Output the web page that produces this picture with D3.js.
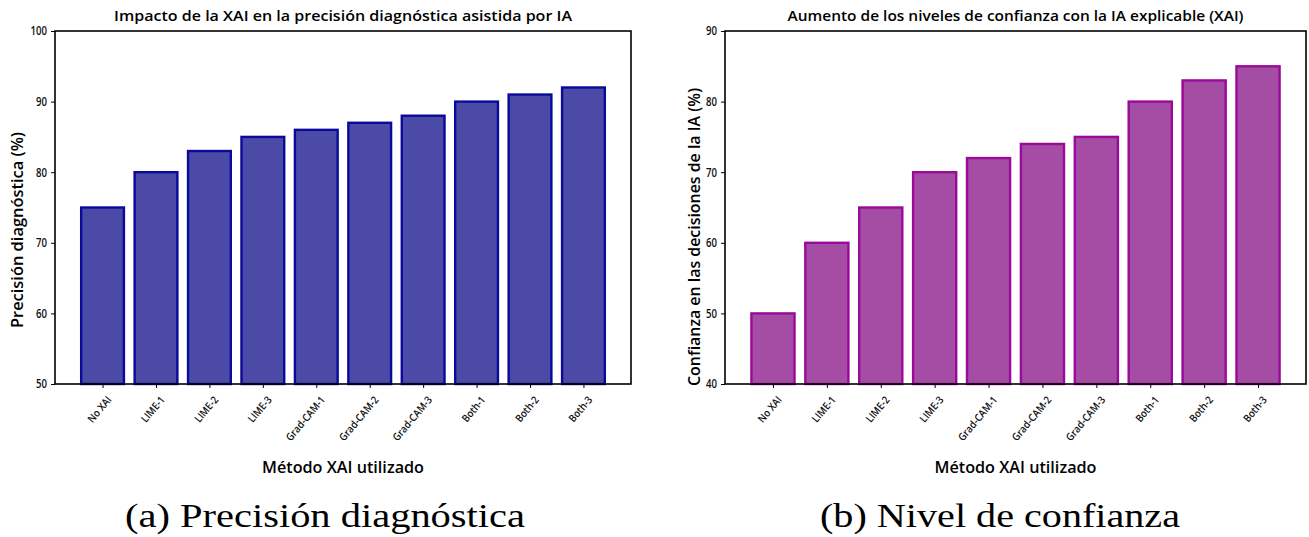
<!DOCTYPE html>
<html>
<head>
<meta charset="utf-8">
<script src="https://cdn.jsdelivr.net/npm/d3@7"></script>
<style>
  body { margin: 0; background: #fff; }
  svg { display: block; }
</style>
</head>
<body>
<div id="chart"></div>
<script>
// categories shared by both panels
var methods = ["No XAI", "LIME-1", "LIME-2", "LIME-3", "Grad-CAM-1", "Grad-CAM-2", "Grad-CAM-3", "Both-1", "Both-2", "Both-3"];

// panel (a) values
var precision = [75, 80, 83, 85, 86, 87, 88, 90, 91, 92];
var precisionTicks = [50, 60, 70, 80, 90, 100];

// panel (b) values
var confidence = [50, 60, 65, 70, 72, 74, 75, 80, 83, 85];
var confidenceTicks = [40, 50, 60, 70, 80, 90];

var W = 1309, H = 537;

var svg = d3.select("#chart")
  .append("svg")
    .attr("width", W)
    .attr("height", H);

var sans = "'Open Sans', sans-serif";
var serif = "'Times New Roman', 'Liberation Serif', Times, serif";

// draws one bar panel
function drawPanel(p) {
  var g = svg.append("g");

  var x = d3.scaleLinear()
    .domain([-0.89, methods.length - 1 + 0.89])
    .range([p.left, p.right]);
  var y = d3.scaleLinear()
    .domain(p.yDomain)
    .range([p.bottom, p.top]);

  // bars
  g.selectAll("rect.bar")
    .data(p.values)
    .enter().append("rect")
      .attr("class", "bar")
      .attr("x", function(d, i) { return x(i - 0.4); })
      .attr("width", function(d, i) { return x(i + 0.4) - x(i - 0.4); })
      .attr("y", function(d) { return y(d); })
      .attr("height", function(d) { return y(p.yDomain[0]) - y(d); })
      .attr("fill", p.fill)
      .attr("stroke", p.stroke)
      .attr("stroke-width", 2.4);

  // y axis
  var yAxis = g.append("g")
    .attr("transform", "translate(" + p.left + ",0)")
    .call(d3.axisLeft(y).tickValues(p.yTicks).tickSize(4).tickPadding(3));
  yAxis.select(".domain").remove();
  yAxis.selectAll("text")
    .style("font-family", sans)
    .style("font-size", "12px")
    .style("font-weight", 600)
    .style("fill", "#111")
    .attr("transform", "scale(0.8,1)")
    .attr("x", -8 / 0.8);

  // x axis
  var xAxis = g.append("g")
    .attr("transform", "translate(0," + p.bottom + ")")
    .call(d3.axisBottom(x).tickValues(d3.range(methods.length)).tickSize(4).tickFormat(function(i) { return methods[i]; }));
  xAxis.select(".domain").remove();
  xAxis.selectAll("text")
    .style("font-family", sans)
    .style("font-size", "10.5px")
    .style("font-weight", 600)
    .style("fill", "#111")
    .style("text-anchor", "end")
    .attr("y", 0)
    .attr("dy", 0)
    .attr("transform", "translate(9,16) rotate(-50) scale(0.9,1)");

  // frame
  g.append("rect")
    .attr("x", p.left)
    .attr("y", p.top)
    .attr("width", p.right - p.left)
    .attr("height", p.bottom - p.top)
    .attr("fill", "none")
    .attr("stroke", "#000")
    .attr("stroke-width", 1.6);

  var cx = (p.left + p.right) / 2;

  // title
  g.append("text")
    .attr("x", cx)
    .attr("y", 21)
    .attr("text-anchor", "middle")
    .style("font-family", sans)
    .style("font-size", "15px")
    .style("font-weight", 600)
    .attr("textLength", p.titleLen)
    .attr("lengthAdjust", "spacingAndGlyphs")
    .text(p.title);

  // y label
  g.append("text")
    .attr("transform", "translate(" + p.ylabX + "," + p.ylabY + ") rotate(-90)")
    .attr("text-anchor", "middle")
    .style("font-family", sans)
    .style("font-size", "16px")
    .style("font-weight", 600)
    .attr("textLength", p.ylabLen)
    .attr("lengthAdjust", "spacingAndGlyphs")
    .text(p.ylabel);

  // x label
  g.append("text")
    .attr("x", cx)
    .attr("y", 473)
    .attr("text-anchor", "middle")
    .style("font-family", sans)
    .style("font-size", "16px")
    .style("font-weight", 600)
    .attr("textLength", 162)
    .attr("lengthAdjust", "spacingAndGlyphs")
    .text("Método XAI utilizado");

  // caption
  g.append("text")
    .attr("x", p.capX)
    .attr("y", 527)
    .attr("text-anchor", "middle")
    .style("font-family", serif)
    .style("font-size", "34px")
    .attr("textLength", p.capLen)
    .attr("lengthAdjust", "spacingAndGlyphs")
    .text(p.caption);
}

drawPanel({
  left: 55, right: 631, top: 31, bottom: 384,
  values: precision, yDomain: [50, 100], yTicks: precisionTicks,
  fill: "#4b4ba7", stroke: "#0a0a9a",
  title: "Impacto de la XAI en la precisión diagnóstica asistida por IA", titleLen: 458,
  ylabel: "Precisión diagnóstica (%)", ylabX: 23, ylabY: 230, ylabLen: 196,
  caption: "(a) Precisión diagnóstica", capX: 325, capLen: 400
});

drawPanel({
  left: 725, right: 1306, top: 31, bottom: 384,
  values: confidence, yDomain: [40, 90], yTicks: confidenceTicks,
  fill: "#a54ca5", stroke: "#9a0a9a",
  title: "Aumento de los niveles de confianza con la IA explicable (XAI)", titleLen: 456,
  ylabel: "Confianza en las decisiones de la IA (%)", ylabX: 700, ylabY: 237, ylabLen: 298,
  caption: "(b) Nivel de confianza", capX: 1000, capLen: 360
});
</script>
</body>
</html>
